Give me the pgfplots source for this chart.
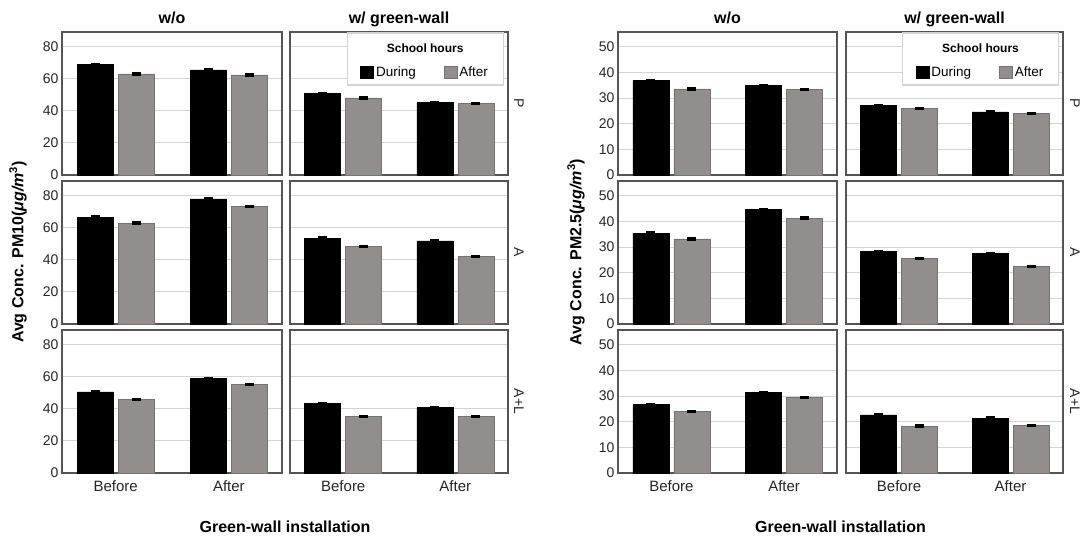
\documentclass[border=0pt]{standalone}
\usepackage{fontspec}
\setmainfont{Liberation Sans}
\usepackage{pgfplots}
\pgfplotsset{compat=1.18}
\definecolor{barg}{RGB}{146,142,141}
\definecolor{framec}{RGB}{85,85,85}
\definecolor{gridc}{RGB}{212,212,212}
\pgfplotsset{
 panel/.style={
  scale only axis, height=143pt,
  ymin=0, xmin=-0.475, xmax=1.47,
  xtick={0,1}, xticklabels={Before,After},
  axis line style={framec, line width=1.3pt},
  ymajorgrids, grid style={gridc, line width=1.2pt},
  major tick length=0pt,
  tick label style={font=\fontsize{14}{16}\selectfont, text=black!85},
  xticklabel style={font=\fontsize{15}{17}\selectfont, yshift=-4pt},
  /pgf/number format/assume math mode=true,
  ybar, bar width=36pt,
  error bars/y dir=both,
  legend image code/.code={\draw[#1] (0pt,-6pt) rectangle (13pt,6pt);},
 },
 pm10/.style={ymax=89, ytick={0,20,40,60,80}, error bars/y fixed=0.5},
 pm25/.style={ymax=55.8, ytick={0,10,20,30,40,50}, error bars/y fixed=0.3},
 noxl/.style={xticklabels={}},
 noyl/.style={yticklabels={}},
 during/.style={fill=black, draw=black, line width=0.6pt, bar shift=-20.5pt,
   error bars/error bar style={black, line width=1.2pt},
   error bars/error mark options={black, rotate=90, line width=1.8pt, mark size=4.5pt}},
 after/.style={fill=barg, draw=black!55, line width=0.6pt, bar shift=20.5pt,
   error bars/error bar style={black, line width=1.2pt},
   error bars/error mark options={black, rotate=90, line width=1.8pt, mark size=4.5pt}},
 leg/.style={legend style={draw=none, fill=none, at={(axis description cs:0.62,0.72)}, anchor=center,
   /tikz/every even column/.append style={column sep=26pt},
   font=\fontsize{13.5}{15}\selectfont}, legend columns=2},
}
\newcommand{\legbox}{%
  \draw[gridc, line width=1.2pt, fill=white] (axis description cs:0.262,0.629) rectangle (axis description cs:0.978,0.993);
  \node[font=\bfseries\fontsize{12}{14}\selectfont] at (axis description cs:0.62,0.888) {School hours};}
\begin{document}
\begin{tikzpicture}[x=1pt,y=1pt]
\useasboundingbox (0,0) rectangle (1086,539);
% ===== Left: PM10 =====
% row P
\begin{axis}[panel, pm10, noxl, width=220pt, at={(62pt,364pt)}, anchor=south west]
\addplot[during] coordinates {(0,68.7) (1,65.4)};
\addplot[after] coordinates {(0,62.9) (1,62.3)};
\end{axis}
\begin{axis}[panel, pm10, noxl, noyl, leg, width=218pt, at={(290pt,364pt)}, anchor=south west]
\addplot[during] coordinates {(0,50.9) (1,45.1)};
\addplot[after] coordinates {(0,48.0) (1,44.4)};
\legbox
\legend{During,After}
\end{axis}
% row A
\begin{axis}[panel, pm10, noxl, width=220pt, at={(62pt,215pt)}, anchor=south west]
\addplot[during] coordinates {(0,66.5) (1,77.9)};
\addplot[after] coordinates {(0,62.8) (1,73.2)};
\end{axis}
\begin{axis}[panel, pm10, noxl, noyl, width=218pt, at={(290pt,215pt)}, anchor=south west]
\addplot[during] coordinates {(0,53.5) (1,51.7)};
\addplot[after] coordinates {(0,48.4) (1,42.0)};
\end{axis}
% row A+L
\begin{axis}[panel, pm10, width=220pt, at={(62pt,66pt)}, anchor=south west]
\addplot[during] coordinates {(0,50.5) (1,58.7)};
\addplot[after] coordinates {(0,45.8) (1,55.2)};
\end{axis}
\begin{axis}[panel, pm10, noyl, width=218pt, at={(290pt,66pt)}, anchor=south west]
\addplot[during] coordinates {(0,43.3) (1,40.6)};
\addplot[after] coordinates {(0,35.3) (1,35.3)};
\end{axis}
% ===== Right: PM2.5 =====
\begin{axis}[panel, pm25, noxl, width=219pt, at={(618pt,364pt)}, anchor=south west]
\addplot[during] coordinates {(0,36.8) (1,35.0)};
\addplot[after] coordinates {(0,33.6) (1,33.3)};
\end{axis}
\begin{axis}[panel, pm25, noxl, noyl, leg, width=217pt, at={(846pt,364pt)}, anchor=south west]
\addplot[during] coordinates {(0,27.2) (1,24.6)};
\addplot[after] coordinates {(0,25.9) (1,24.1)};
\legbox
\legend{During,After}
\end{axis}
\begin{axis}[panel, pm25, noxl, width=219pt, at={(618pt,215pt)}, anchor=south west]
\addplot[during] coordinates {(0,35.5) (1,44.7)};
\addplot[after] coordinates {(0,33.2) (1,41.3)};
\end{axis}
\begin{axis}[panel, pm25, noxl, noyl, width=217pt, at={(846pt,215pt)}, anchor=south west]
\addplot[during] coordinates {(0,28.4) (1,27.6)};
\addplot[after] coordinates {(0,25.5) (1,22.4)};
\end{axis}
\begin{axis}[panel, pm25, width=219pt, at={(618pt,66pt)}, anchor=south west]
\addplot[during] coordinates {(0,26.7) (1,31.5)};
\addplot[after] coordinates {(0,24.1) (1,29.5)};
\end{axis}
\begin{axis}[panel, pm25, noyl, width=217pt, at={(846pt,66pt)}, anchor=south west]
\addplot[during] coordinates {(0,22.7) (1,21.4)};
\addplot[after] coordinates {(0,18.3) (1,18.6)};
\end{axis}
% ===== Titles and labels =====
\tikzset{ttl/.style={font=\bfseries\fontsize{16}{18}\selectfont, anchor=base}}
\node[ttl] at (172,515.5) {w/o};
\node[ttl] at (399,515.5) {w/ green-wall};
\node[ttl] at (727.5,515.5) {w/o};
\node[ttl] at (954.5,515.5) {w/ green-wall};
\tikzset{rowl/.style={font=\fontsize{14}{16}\selectfont, rotate=-90, text=black!85}}
\node[rowl] at (519,435.5) {P};
\node[rowl] at (519,286.5) {A};
\node[rowl] at (519,137.5) {A+L};
\node[rowl] at (1075,435.5) {P};
\node[rowl] at (1075,286.5) {A};
\node[rowl] at (1075,137.5) {A+L};
\tikzset{yl/.style={font=\bfseries\fontsize{16}{18}\selectfont, rotate=90}}
\node[yl] at (18,287) {Avg Conc. PM10(\textit{μg/m}\textsuperscript{3})};
\node[yl] at (576,287) {Avg Conc. PM2.5(\textit{μg/m}\textsuperscript{3})};
\node[ttl] at (285,7) {Green-wall installation};
\node[ttl] at (840.5,7) {Green-wall installation};
\end{tikzpicture}
\end{document}
